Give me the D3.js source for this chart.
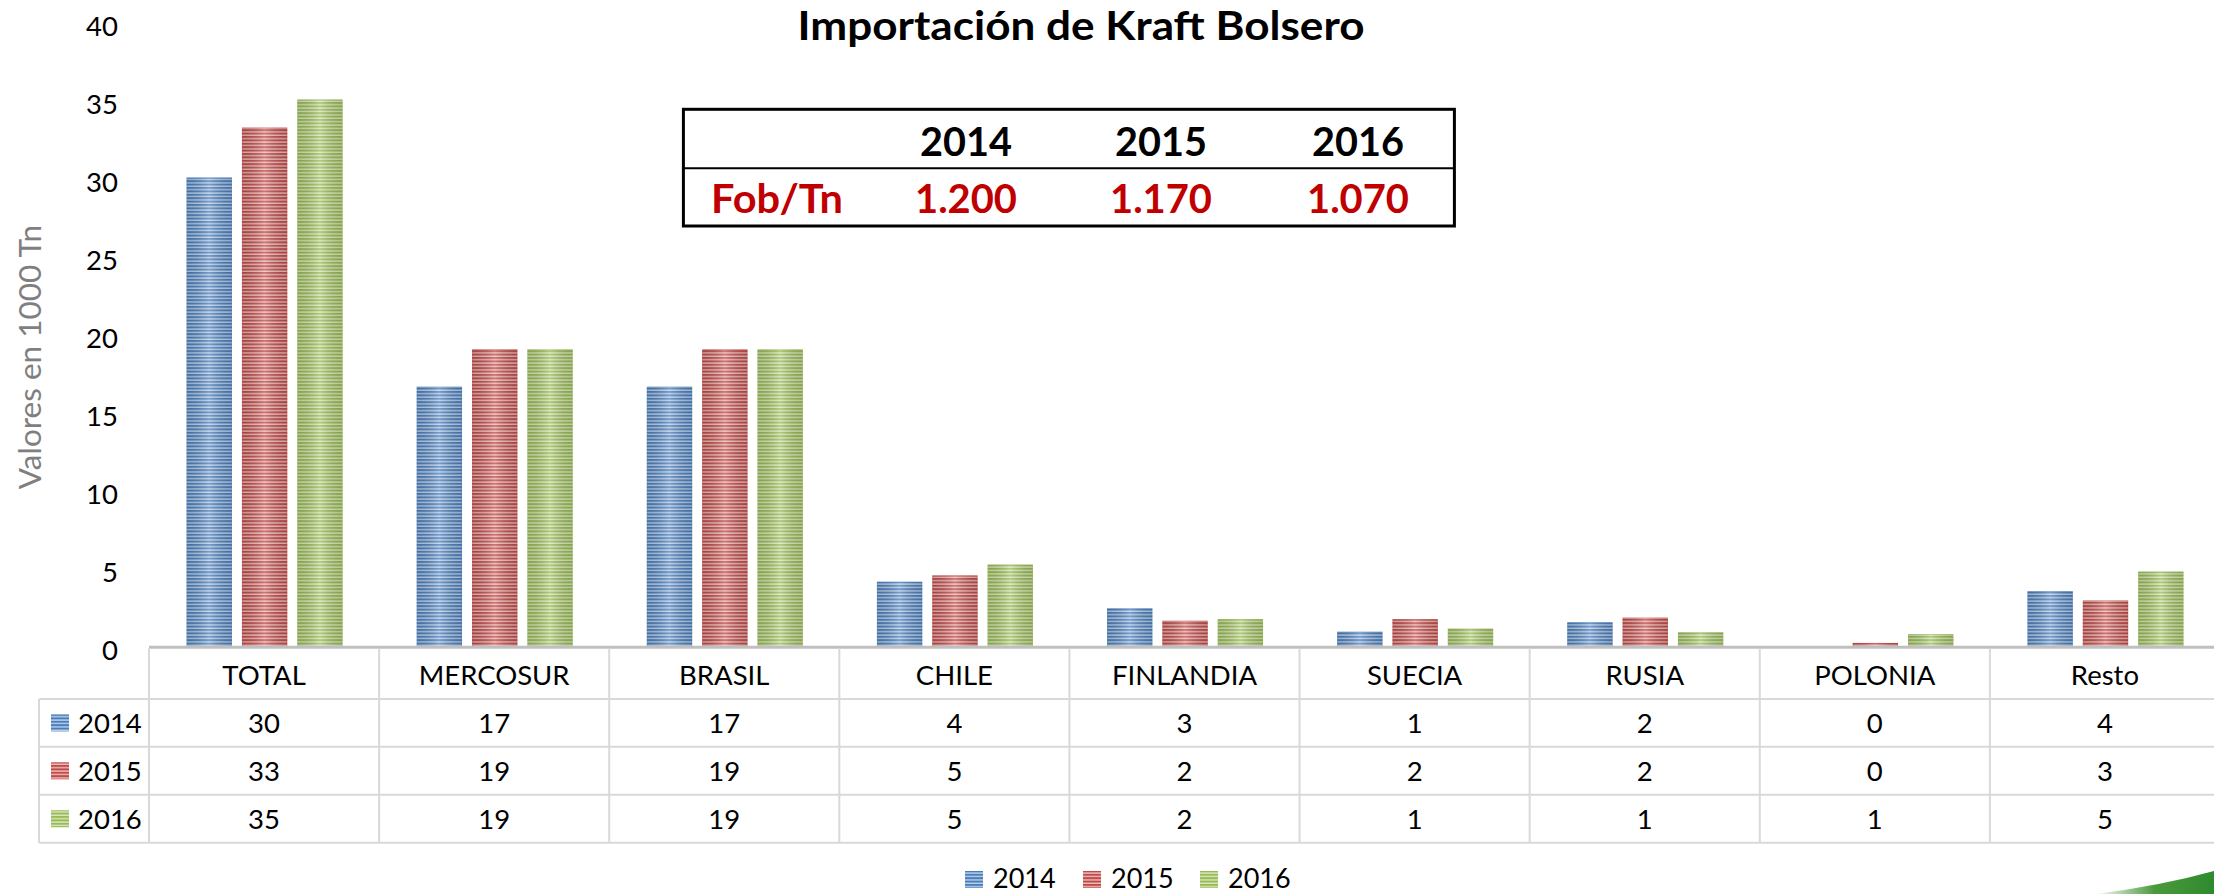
<!DOCTYPE html>
<html>
<head>
<meta charset="utf-8">
<script src="https://cdn.jsdelivr.net/npm/d3@7"></script>
<style>
html,body{margin:0;padding:0;background:#fff;}
svg{display:block;}
text{font-family:Lato,"Open Sans",sans-serif;}
</style>
</head>
<body>
<svg id="chart" width="2214" height="894"></svg>
<script>
// ---- data ----
const categories = ["TOTAL","MERCOSUR","BRASIL","CHILE","FINLANDIA","SUECIA","RUSIA","POLONIA","Resto"];
const years = ["2014","2015","2016"];
const v2014 = [30.1, 16.7, 16.7, 4.2, 2.5, 1.0, 1.6, 0, 3.6];
const v2015 = [33.3, 19.1, 19.1, 4.6, 1.7, 1.8, 1.9, 0.28, 3.0];
const v2016 = [35.1, 19.1, 19.1, 5.3, 1.8, 1.2, 0.96, 0.85, 4.85];
const t2014 = ["30","17","17","4","3","1","2","0","4"];
const t2015 = ["33","19","19","5","2","2","2","0","3"];
const t2016 = ["35","19","19","5","2","1","1","1","5"];
const yTicks = [0,5,10,15,20,25,30,35,40];
const fobYears = ["2014","2015","2016"];
const fobValues = ["1.200","1.170","1.070"];
const title = "Importación de Kraft Bolsero";
const yTitle = "Valores en 1000 Tn";

const seriesValues = [v2014, v2015, v2016];
const tableValues = [t2014, t2015, t2016];
const colors = [
  {dark:"#4a7ebb", light:"#bcd0ea", id:"p2014"},
  {dark:"#be4b48", light:"#efbcbb", id:"p2015"},
  {dark:"#98b954", light:"#d9e8bd", id:"p2016"}
];

const svg = d3.select("#chart");
const defs = svg.append("defs");

colors.forEach(c => {
  const p = defs.append("pattern").attr("id", c.id)
    .attr("patternUnits","userSpaceOnUse").attr("width", 8).attr("height", 3.4);
  p.append("rect").attr("width",8).attr("height",3.4).attr("fill", c.light);
  p.append("rect").attr("y",0).attr("width",8).attr("height",2).attr("fill", c.dark);
});
const g = defs.append("linearGradient").attr("id","shine").attr("x1","0").attr("x2","1").attr("y1","0").attr("y2","0");
g.append("stop").attr("offset","0").attr("stop-color","#000").attr("stop-opacity",0.12);
g.append("stop").attr("offset","0.5").attr("stop-color","#fff").attr("stop-opacity",0.25);
g.append("stop").attr("offset","1").attr("stop-color","#000").attr("stop-opacity",0.12);
const sw = defs.append("linearGradient").attr("id","swoosh").attr("x1","0").attr("x2","1");
sw.append("stop").attr("offset","0").attr("stop-color","#ffffff");
sw.append("stop").attr("offset","0.5").attr("stop-color","#4a9a3c");
sw.append("stop").attr("offset","1").attr("stop-color","#2e8a2e");

// ---- scales ----
const plotLeft = 149, plotRight = 2220;
const y0 = 647.3, yTop = 23.1;
const x0 = d3.scaleBand().domain(categories).range([plotLeft, plotRight]).padding(0);
const bw = x0.bandwidth();
const x1 = d3.scaleBand().domain(years).range([37.6, 193.6]).paddingInner(0.181).paddingOuter(0);
const y = d3.scaleLinear().domain([0,40]).range([y0, yTop]);

// ---- title ----
svg.append("text").attr("x", 1081).attr("y", 25).attr("text-anchor","middle")
  .attr("dominant-baseline","central").attr("font-weight","bold").attr("font-size",40)
  .attr("textLength",567).attr("lengthAdjust","spacingAndGlyphs").attr("fill","#000").text(title);

// ---- y axis ----
const yAxis = d3.axisLeft(y).tickValues(yTicks).tickSize(0).tickPadding(0);
const ya = svg.append("g").attr("transform","translate(118,2.7)").call(yAxis);
ya.select(".domain").remove();
ya.selectAll("text").attr("font-size",27.5).attr("fill","#000")
  .attr("font-family","Lato, 'Open Sans', sans-serif").attr("dy","0.35em");

svg.append("text").attr("transform","translate(29,357) rotate(-90)")
  .attr("text-anchor","middle").attr("dominant-baseline","central")
  .attr("font-size",31.5).attr("fill","#7f7f7f").text(yTitle);

// ---- bars ----
const groups = svg.append("g").selectAll("g").data(categories).join("g")
  .attr("transform", d => `translate(${x0(d)},0)`);
years.forEach((yr, si) => {
  groups.each(function(cat, ci) {
    const v = seriesValues[si][ci];
    if (v <= 0) return;
    const sel = d3.select(this);
    const bx = x1(yr), by = y(v), bh = y(0) - y(v), bwid = x1.bandwidth();
    sel.append("rect").attr("x", bx).attr("y", by).attr("width", bwid).attr("height", bh)
      .attr("fill", `url(#${colors[si].id})`);
    sel.append("rect").attr("x", bx).attr("y", by).attr("width", bwid).attr("height", bh)
      .attr("fill", "url(#shine)");
    sel.append("rect").attr("x", bx+0.5).attr("y", by+0.5).attr("width", bwid-1).attr("height", Math.max(0,bh-1))
      .attr("fill","none").attr("stroke", colors[si].dark).attr("stroke-opacity",0.35).attr("stroke-width",1);
  });
});

// ---- data table ----
const rowTops = [647.3, 699, 746.8, 794.8, 842.7];
const lineColor = "#d9d9d9";
const tbl = svg.append("g");
tbl.append("line").attr("x1", plotLeft).attr("x2", 2214).attr("y1", y0).attr("y2", y0)
  .attr("stroke","#bfbfbf").attr("stroke-width",3);
rowTops.slice(1).forEach(ry => {
  tbl.append("line").attr("x1", 39).attr("x2", 2214).attr("y1", ry).attr("y2", ry)
    .attr("stroke", lineColor).attr("stroke-width",2);
});
categories.forEach(c => {
  tbl.append("line").attr("x1", x0(c)).attr("x2", x0(c)).attr("y1", y0+1).attr("y2", rowTops[4])
    .attr("stroke", lineColor).attr("stroke-width",2);
});
tbl.append("line").attr("x1", 39).attr("x2", 39).attr("y1", rowTops[1]).attr("y2", rowTops[4])
  .attr("stroke", lineColor).attr("stroke-width",2);
categories.forEach(c => {
  tbl.append("text").attr("x", x0(c) + bw/2).attr("y", (rowTops[0]+rowTops[1])/2 + 1)
    .attr("text-anchor","middle").attr("dominant-baseline","central")
    .attr("font-size",27.5).attr("fill","#000").text(c);
});
years.forEach((yr, si) => {
  const cy = (rowTops[si+1] + rowTops[si+2]) / 2;
  tbl.append("rect").attr("x", 51).attr("y", cy-8.5).attr("width",18).attr("height",17)
    .attr("fill", `url(#${colors[si].id})`);
  tbl.append("text").attr("x", 78).attr("y", cy).attr("dominant-baseline","central")
    .attr("font-size",27.5).attr("fill","#000").text(yr);
  categories.forEach((c, ci) => {
    tbl.append("text").attr("x", x0(c) + bw/2).attr("y", cy)
      .attr("text-anchor","middle").attr("dominant-baseline","central")
      .attr("font-size",27.5).attr("fill","#000").text(tableValues[si][ci]);
  });
});

// ---- bottom legend ----
const legX = [965, 1083, 1200];
years.forEach((yr, si) => {
  svg.append("rect").attr("x", legX[si]).attr("y", 871).attr("width",18).attr("height",17)
    .attr("fill", `url(#${colors[si].id})`);
  svg.append("text").attr("x", legX[si] + 28).attr("y", 888)
    .attr("font-size",27).attr("fill","#000").text(yr);
});

// ---- inset Fob/Tn table ----
const inset = svg.append("g");
inset.append("rect").attr("x",683.4).attr("y",109.3).attr("width",771).attr("height",116.7)
  .attr("fill","#fff").attr("stroke","#000").attr("stroke-width",3);
inset.append("line").attr("x1",683.4).attr("x2",1454.4).attr("y1",168.3).attr("y2",168.3)
  .attr("stroke","#000").attr("stroke-width",2);
const fobX = [966, 1161, 1358];
fobYears.forEach((yr, i) => {
  inset.append("text").attr("x", fobX[i]).attr("y", 141).attr("text-anchor","middle")
    .attr("dominant-baseline","central").attr("font-weight","bold").attr("font-size",40)
    .attr("textLength",92).attr("lengthAdjust","spacingAndGlyphs").attr("fill","#000").text(yr);
  inset.append("text").attr("x", fobX[i]).attr("y", 198).attr("text-anchor","middle")
    .attr("dominant-baseline","central").attr("font-weight","bold").attr("font-size",40)
    .attr("textLength",102).attr("lengthAdjust","spacingAndGlyphs").attr("fill","#c00000").text(fobValues[i]);
});
inset.append("text").attr("x", 711).attr("y", 198)
  .attr("dominant-baseline","central").attr("font-weight","bold").attr("font-size",40)
  .attr("textLength",132).attr("lengthAdjust","spacingAndGlyphs").attr("fill","#c00000").text("Fob/Tn");

// ---- decorative swoosh ----
svg.append("path").attr("d","M2095,894 Q2160,886 2214,871 L2214,894 Z").attr("fill","url(#swoosh)");
</script>
</body>
</html>
